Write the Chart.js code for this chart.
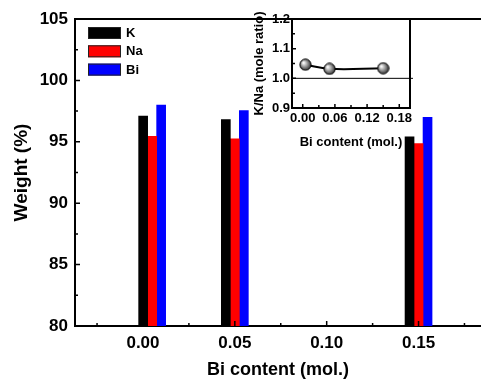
<!DOCTYPE html>
<html>
<head>
<meta charset="utf-8">
<script src="https://cdn.jsdelivr.net/npm/chart.js@4"></script>
<style>
  body { margin: 0; background: #fff; }
  #wrap { position: relative; width: 481px; height: 381px; }
  #mainChart { position: absolute; left: 0; top: 0; }
  #insetChart { position: absolute; left: 240px; top: 0; }
</style>
</head>
<body>
<div id="wrap">
  <canvas id="mainChart" width="481" height="381"></canvas>
  <canvas id="insetChart" width="185" height="150"></canvas>
</div>
<script>
// main chart data
const categories = [0.005, 0.05, 0.15];
const kWeight = [97.1, 96.8, 95.4];
const naWeight = [95.45, 95.25, 94.85];
const biWeight = [98.0, 97.55, 97.0];
const xTickLabels = [0.00, 0.05, 0.10, 0.15];
const yTickLabels = [80, 85, 90, 95, 100, 105];

// inset data
const insetX = [0.005, 0.05, 0.15];
const knaRatio = [1.046, 1.032, 1.034];
const insetXTicks = [0.00, 0.06, 0.12, 0.18];
const insetYTicks = [0.9, 1.0, 1.1, 1.2];

const FONT = "'Liberation Sans', Arial, sans-serif";

function toPoints(xs, ys) {
    return xs.map((x, i) => ({ x: x, y: ys[i] }));
}

// ticks drawn inward, like Origin does
function inwardTicks(xStep, yStep, major, minor, frame) {
    return {
        id: 'inwardTicks',
        afterDraw(chart) {
            const ctx = chart.ctx;
            const a = chart.chartArea;
            const xs = chart.scales.x, ys = chart.scales.y;
            ctx.save();
            ctx.strokeStyle = '#000';
            ctx.lineWidth = 1.5;
            ctx.beginPath();
            for (let i = Math.ceil(xs.min / xStep - 1e-6); i * xStep <= xs.max + 1e-9; i++) {
                const px = xs.getPixelForValue(i * xStep);
                const len = i % 2 === 0 ? major : minor;
                ctx.moveTo(px, a.bottom);
                ctx.lineTo(px, a.bottom - len);
            }
            for (let i = Math.ceil(ys.min / yStep - 1e-6); i * yStep <= ys.max + 1e-9; i++) {
                const py = ys.getPixelForValue(i * yStep);
                const len = i % 2 === 0 ? major : minor;
                ctx.moveTo(a.left, py);
                ctx.lineTo(a.left + len, py);
            }
            ctx.stroke();
            ctx.lineWidth = 2;
            if (frame) {
                ctx.strokeRect(a.left, a.top, a.right - a.left, a.bottom - a.top);
            } else {
                ctx.beginPath();
                ctx.moveTo(a.left - 1, a.top);
                ctx.lineTo(a.right, a.top);
                ctx.stroke();
            }
            ctx.restore();
        }
    };
}

const boxLegend = {
    id: 'boxLegend',
    afterDraw(chart) {
        const ctx = chart.ctx;
        ctx.save();
        ctx.font = 'bold 13px ' + FONT;
        ctx.textBaseline = 'middle';
        chart.data.datasets.forEach((ds, i) => {
            const y = 27 + i * 18.3;
            ctx.fillStyle = ds.backgroundColor;
            ctx.fillRect(88, y, 33, 12);
            ctx.strokeStyle = '#222';
            ctx.lineWidth = 1;
            ctx.strokeRect(88.5, y + 0.5, 32, 11);
            ctx.fillStyle = '#000';
            ctx.fillText(ds.label, 126, y + 6.5);
        });
        ctx.restore();
    }
};

const refLine = {
    id: 'refLine',
    afterDatasetsDraw(chart) {
        const ctx = chart.ctx;
        const a = chart.chartArea;
        const py = chart.scales.y.getPixelForValue(1.0);
        ctx.save();
        ctx.strokeStyle = '#000';
        ctx.lineWidth = 1;
        ctx.beginPath();
        ctx.moveTo(a.left, py);
        ctx.lineTo(a.right + 3, py);
        ctx.stroke();
        ctx.restore();
    }
};

const configMain = {
    type: 'bar',
    data: {
        datasets: [
            { label: 'K', data: toPoints(categories, kWeight), backgroundColor: '#000000' },
            { label: 'Na', data: toPoints(categories, naWeight), backgroundColor: '#ff0000' },
            { label: 'Bi', data: toPoints(categories, biWeight), backgroundColor: '#0000ff' }
        ]
    },
    options: {
        responsive: false,
        animation: false,
        devicePixelRatio: 1,
        barThickness: 9,
        layout: { padding: { top: 19, right: 0, left: 0, bottom: 0 } },
        plugins: { legend: { display: false }, tooltip: { enabled: false } },
        scales: {
            x: {
                type: 'linear',
                offset: false,
                min: -0.037,
                max: 0.184,
                afterBuildTicks: s => { s.ticks = xTickLabels.map(v => ({ value: v })); },
                afterFit: s => { s.height = 55; },
                grid: { drawOnChartArea: false, drawTicks: false },
                border: { color: '#000', width: 2 },
                ticks: {
                    padding: 7,
                    color: '#000',
                    font: { family: FONT, size: 17, weight: 'bold' },
                    callback: v => v.toFixed(2)
                },
                title: {
                    display: true,
                    text: 'Bi content (mol.)',
                    color: '#000',
                    padding: { top: 2, bottom: 0 },
                    font: { family: FONT, size: 18, weight: 'bold' }
                }
            },
            y: {
                min: 80,
                max: 105,
                afterBuildTicks: s => { s.ticks = yTickLabels.map(v => ({ value: v })); },
                afterFit: s => { s.width = 75; },
                grid: { drawOnChartArea: false, drawTicks: false },
                border: { color: '#000', width: 2 },
                ticks: {
                    padding: 7,
                    color: '#000',
                    font: { family: FONT, size: 17, weight: 'bold' }
                },
                title: {
                    display: true,
                    text: 'Weight (%)',
                    color: '#000',
                    padding: { top: 10, bottom: 0 },
                    font: { family: FONT, size: 19, weight: 'bold' }
                }
            }
        }
    },
    plugins: [inwardTicks(0.025, 2.5, 5, 3, false), boxLegend]
};

// shaded ball for the inset markers
const ball = document.createElement('canvas');
ball.width = 13;
ball.height = 13;
(function () {
    const c = ball.getContext('2d');
    const g = c.createRadialGradient(4.5, 4.5, 0.5, 6.5, 6.5, 6.5);
    g.addColorStop(0, '#ffffff');
    g.addColorStop(0.45, '#9a9a9a');
    g.addColorStop(1, '#1a1a1a');
    c.fillStyle = g;
    c.beginPath();
    c.arc(6.5, 6.5, 5.6, 0, Math.PI * 2);
    c.fill();
    c.strokeStyle = '#000';
    c.lineWidth = 1;
    c.stroke();
})();

const configInset = {
    type: 'line',
    data: {
        datasets: [{
            label: 'K/Na',
            data: toPoints(insetX, knaRatio),
            borderColor: '#000',
            borderWidth: 2,
            tension: 0.4,
            pointStyle: ball,
            pointRadius: 6
        }]
    },
    options: {
        responsive: false,
        animation: false,
        devicePixelRatio: 1,
        layout: { padding: { top: 19, right: 15, left: 0, bottom: 0 } },
        plugins: { legend: { display: false }, tooltip: { enabled: false } },
        scales: {
            x: {
                type: 'linear',
                offset: false,
                min: -0.02,
                max: 0.2,
                afterBuildTicks: s => { s.ticks = insetXTicks.map(v => ({ value: v })); },
                afterFit: s => { s.height = 42; },
                grid: { drawOnChartArea: false, drawTicks: false },
                border: { color: '#000', width: 2 },
                ticks: {
                    padding: 3,
                    color: '#000',
                    maxRotation: 0,
                    autoSkip: false,
                    font: { family: FONT, size: 13, weight: 'bold' },
                    callback: v => v.toFixed(2)
                },
                title: {
                    display: true,
                    text: 'Bi content (mol.)',
                    color: '#000',
                    padding: { top: 2, bottom: 0 },
                    font: { family: FONT, size: 13, weight: 'bold' }
                }
            },
            y: {
                min: 0.9,
                max: 1.2,
                afterBuildTicks: s => { s.ticks = insetYTicks.map(v => ({ value: v })); },
                afterFit: s => { s.width = 52; },
                grid: { drawOnChartArea: false, drawTicks: false },
                border: { color: '#000', width: 2 },
                ticks: {
                    padding: 2,
                    color: '#000',
                    font: { family: FONT, size: 13, weight: 'bold' },
                    callback: v => v.toFixed(1)
                },
                title: {
                    display: true,
                    text: 'K/Na (mole ratio)',
                    color: '#000',
                    padding: { top: 12, bottom: 0 },
                    font: { family: FONT, size: 13, weight: 'bold' }
                }
            }
        }
    },
    plugins: [inwardTicks(0.03, 0.05, 4, 3, true), refLine]
};

var mainChart = new Chart(document.getElementById('mainChart'), configMain);
var insetChart = new Chart(document.getElementById('insetChart'), configInset);
</script>
</body>
</html>
